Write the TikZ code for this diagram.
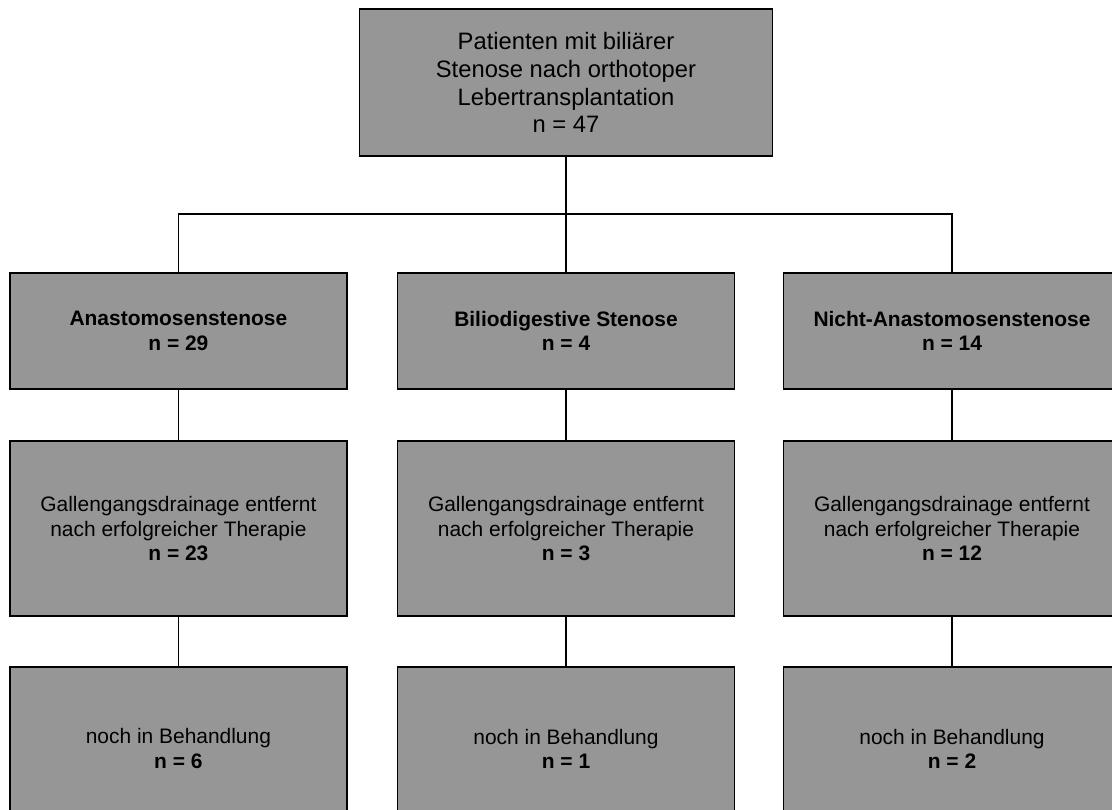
\documentclass[tikz,border=0pt]{standalone}
\usepackage{fontspec}
\setmainfont{Liberation Sans}
\usepackage{tikz}
\usetikzlibrary{positioning}
\definecolor{boxgray}{RGB}{150,150,150}

\begin{document}
\begin{tikzpicture}[
    stage/.style={draw, rectangle, fill=boxgray, line width=1pt, align=center,
        minimum width=8.425cm, font=\fontsize{14.9}{17.3}\selectfont},
    link/.style={line width=1pt}
  ]
    \clip (0,0) rectangle (27.8,20.225);

    % Ausgangskollektiv
    \node[stage, minimum width=10.325cm, minimum height=3.675cm,
        font=\fontsize{16.9}{19.7}\selectfont] (pat) at (14.15,18.16)
        {Patienten mit biliärer\\Stenose nach orthotoper\\Lebertransplantation\\n = 47};

    % Stenosetyp
    \node[stage, minimum height=2.9cm] (anast) at (4.46,11.95) {\textbf{Anastomosenstenose}\\\textbf{n = 29}};
    \node[stage, minimum height=2.9cm] (bilio) at (14.15,11.95) {\textbf{Biliodigestive Stenose}\\\textbf{n = 4}};
    \node[stage, minimum height=2.9cm] (nicht) at (23.8,11.95) {\textbf{Nicht-Anastomosenstenose}\\\textbf{n = 14}};

    % Drainage entfernt
    \node[stage, minimum height=4.375cm] (drainA) at (4.46,7.01) {Gallengangsdrainage entfernt\\nach erfolgreicher Therapie\\\textbf{n = 23}};
    \node[stage, minimum height=4.375cm] (drainB) at (14.15,7.01) {Gallengangsdrainage entfernt\\nach erfolgreicher Therapie\\\textbf{n = 3}};
    \node[stage, minimum height=4.375cm] (drainN) at (23.8,7.01) {Gallengangsdrainage entfernt\\nach erfolgreicher Therapie\\\textbf{n = 12}};

    % noch in Behandlung
    \node[stage, minimum height=4.075cm] (behA) at (4.46,1.51) {noch in Behandlung\\\textbf{n = 6}};
    \node[stage, minimum height=4.075cm] (behB) at (14.15,1.51) {noch in Behandlung\\\textbf{n = 1}};
    \node[stage, minimum height=4.075cm] (behN) at (23.8,1.51) {noch in Behandlung\\\textbf{n = 2}};

    % Verbindungen
    \coordinate (bus) at (14.15,14.875);
    \draw[link] (pat) -- (bus);
    \draw[link] (anast.north) |- (bus) -| (nicht.north);
    \draw[link] (bus) -- (bilio.north);
    \draw[link] (anast) -- (drainA);
    \draw[link] (bilio) -- (drainB);
    \draw[link] (nicht) -- (drainN);
    \draw[link] (drainA) -- (behA);
    \draw[link] (drainB) -- (behB);
    \draw[link] (drainN) -- (behN);
\end{tikzpicture}
\end{document}
